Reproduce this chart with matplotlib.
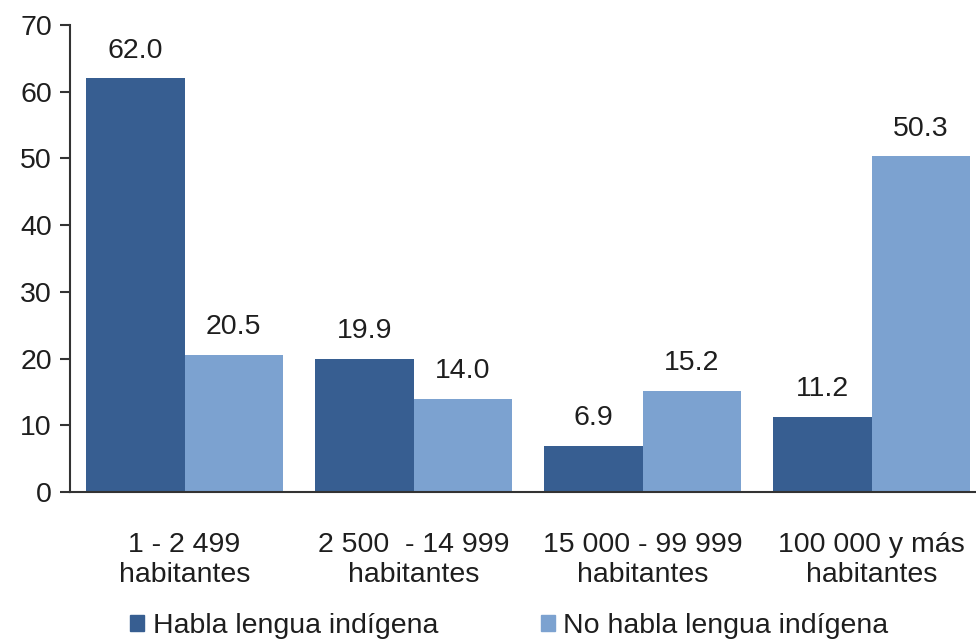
import matplotlib.pyplot as plt
import numpy as np
from matplotlib.patches import Patch

plt.rcParams['font.family'] = ['Liberation Sans', 'DejaVu Sans']

categorias = ['1 - 2 499\nhabitantes', '2 500  - 14 999\nhabitantes',
              '15 000 - 99 999\nhabitantes', '100 000 y más\nhabitantes']
habla = [62.0, 19.9, 6.9, 11.2]
no_habla = [20.5, 14.0, 15.2, 50.3]
series = ['Habla lengua indígena', 'No habla lengua indígena']

c_oscuro = '#375E91'
c_claro = '#7CA2D0'
txt = '#1e1e1e'

fig = plt.figure(figsize=(9.76, 6.43), dpi=100)
ax = fig.add_axes([70/976, 1-492/643, 1-70/976, (492-25)/643])

x = np.arange(len(categorias))
w = 0.43
b1 = ax.bar(x - w/2, habla, w, color=c_oscuro)
b2 = ax.bar(x + w/2, no_habla, w, color=c_claro)

for bars in (b1, b2):
    for r in bars:
        ax.annotate(f'{r.get_height():.1f}', (r.get_x() + r.get_width()/2, r.get_height()),
                    xytext=(0, 15), textcoords='offset points', ha='center', va='baseline',
                    fontsize=20.5, color=txt)

ax.set_ylim(0, 70)
ax.set_xlim(-0.5, 3.455)
ax.set_yticks(range(0, 71, 10))
ax.set_xticks(x)
ax.set_xticklabels(categorias, fontsize=20.5, color=txt)
ax.tick_params(axis='x', length=0, pad=29)
ax.tick_params(axis='y', length=7, width=1.5, labelsize=20.5, labelcolor=txt, color='#333333', pad=6)

for s in ('top', 'right'):
    ax.spines[s].set_visible(False)
for s in ('left', 'bottom'):
    ax.spines[s].set_color('#333333')
    ax.spines[s].set_linewidth(1.5)

handles = [Patch(color=c_oscuro), Patch(color=c_claro)]
fig.legend(handles, series, loc='center left', bbox_to_anchor=(130/976, 17/643),
           ncol=2, frameon=False, fontsize=20.5, handlelength=0.5, handleheight=0.5,
           handletextpad=0.3, columnspacing=3.6, borderpad=0, borderaxespad=0,
           labelcolor=txt)

fig.savefig('out.png', dpi=100)
